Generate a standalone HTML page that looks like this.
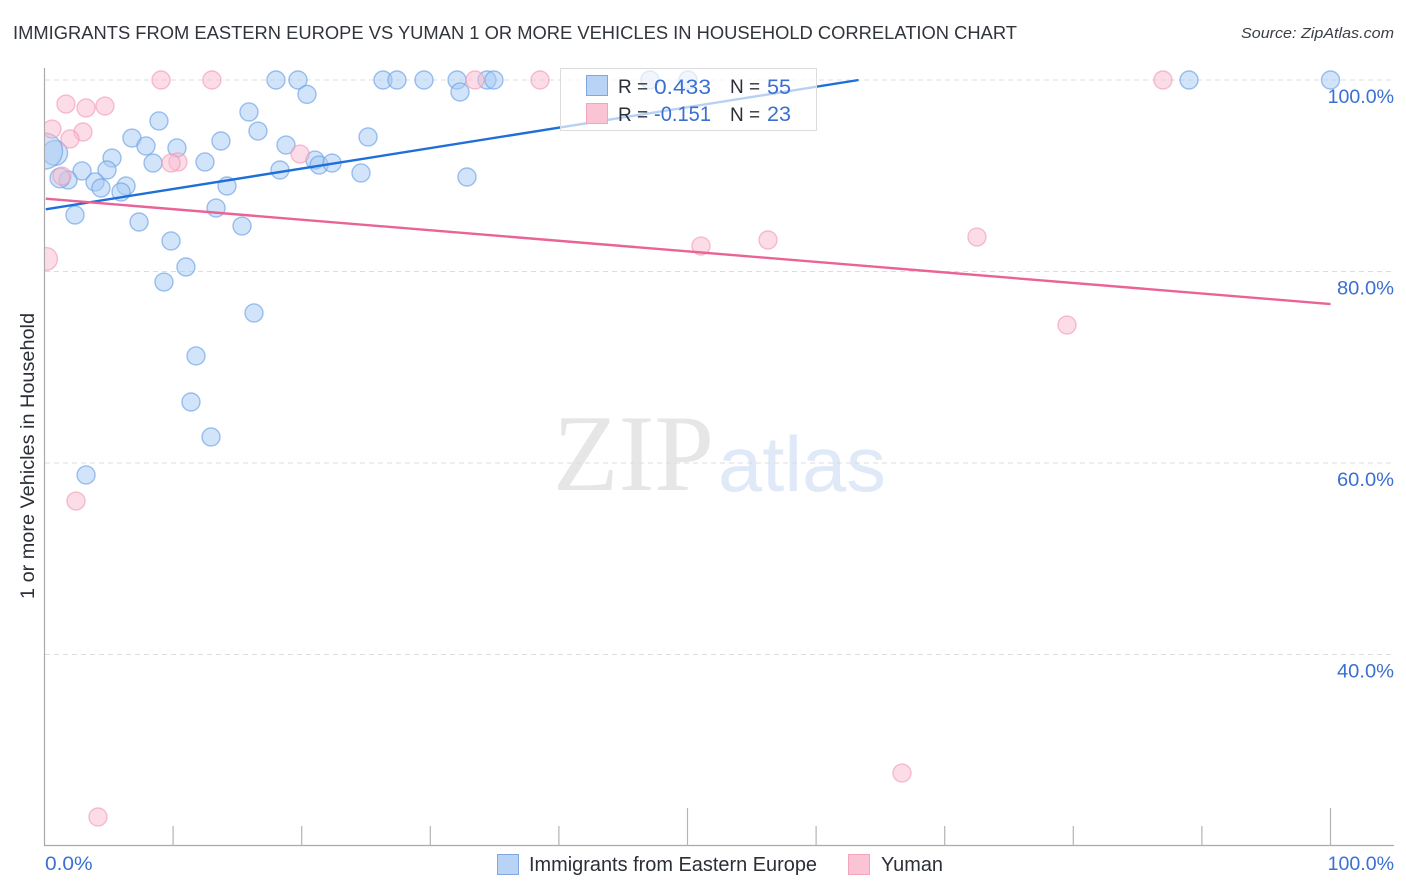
<!DOCTYPE html>
<html lang="en">
<head>
<meta charset="utf-8">
<title>Immigrants from Eastern Europe vs Yuman correlation chart</title>
<style>
html,body{margin:0;padding:0;background:#fff;}
svg{display:block;font-family:"Liberation Sans",sans-serif;}
</style>
</head>
<body>
<svg id="chart" xmlns="http://www.w3.org/2000/svg" width="1406" height="892" viewBox="0 0 1406 892">
  <defs>
    <clipPath id="plot-clip"><rect x="45" y="60" width="1349" height="785"/></clipPath>
  </defs>
  <rect width="1406" height="892" fill="#fff"/>

  <text x="13" y="39" font-size="18" fill="#30343b" textLength="1004" lengthAdjust="spacingAndGlyphs">IMMIGRANTS FROM EASTERN EUROPE VS YUMAN 1 OR MORE VEHICLES IN HOUSEHOLD CORRELATION CHART</text>
  <text x="1241" y="38" font-size="15" font-style="italic" fill="#3a3f47" textLength="153" lengthAdjust="spacingAndGlyphs">Source: ZipAtlas.com</text>

  <g>
    <text x="553" y="490" font-family="'Liberation Serif',serif" font-size="109" fill="#e6e6e6" textLength="161" lengthAdjust="spacingAndGlyphs">ZIP</text>
    <text x="718" y="491" font-size="78" fill="#dfe9f8" textLength="168" lengthAdjust="spacingAndGlyphs">atlas</text>
  </g>

  <g id="grid"></g>
  <g id="axes"></g>
  <g id="points" clip-path="url(#plot-clip)"></g>
  <g id="trends"></g>

  <text transform="translate(34,599) rotate(-90)" font-size="19" fill="#2b2f36" textLength="286" lengthAdjust="spacingAndGlyphs">1 or more Vehicles in Household</text>

  <g>
    <rect x="560.5" y="68.5" width="256" height="62" fill="#fff" fill-opacity="0.68" stroke="#dcdcdc" stroke-width="1"/>
    <rect x="586.5" y="75.5" width="21" height="20" fill="#b9d3f7" stroke="#7fa8e0"/>
    <rect x="586.5" y="103.5" width="21" height="20" fill="#fbc4d5" stroke="#f3a5bd"/>
    <text x="618" y="93" font-size="19" fill="#2b2f36">R =</text>
    <text x="654" y="94" font-size="21" fill="#3b6fd1" textLength="57" lengthAdjust="spacingAndGlyphs">0.433</text>
    <text x="730" y="93" font-size="19" fill="#2b2f36">N =</text>
    <text x="767" y="94" font-size="21" fill="#3b6fd1" textLength="24" lengthAdjust="spacingAndGlyphs">55</text>
    <text x="618" y="121" font-size="19" fill="#2b2f36">R =</text>
    <text x="654" y="121" font-size="21" fill="#3b6fd1" textLength="57" lengthAdjust="spacingAndGlyphs">-0.151</text>
    <text x="730" y="121" font-size="19" fill="#2b2f36">N =</text>
    <text x="767" y="121" font-size="21" fill="#3b6fd1" textLength="24" lengthAdjust="spacingAndGlyphs">23</text>
  </g>

  <g>
    <rect x="497.5" y="854.5" width="21" height="20" fill="#b9d3f7" stroke="#7fa8e0"/>
    <text x="529" y="871" font-size="20" fill="#2b2f36" textLength="288" lengthAdjust="spacingAndGlyphs">Immigrants from Eastern Europe</text>
    <rect x="848.5" y="854.5" width="21" height="20" fill="#fbc4d5" stroke="#f3a5bd"/>
    <text x="881" y="871" font-size="20" fill="#2b2f36" textLength="62" lengthAdjust="spacingAndGlyphs">Yuman</text>
  </g>
</svg>
<script>
// Chart data
const blueX = [18.0,19.71,20.41,26.32,27.41,29.51,32.08,32.31,34.41,34.95,47.08,50.04,89.0,100,15.9,16.6,8.9,6.8,7.89,10.3,13.72,18.78,25.16,5.25,8.44,12.48,21.03,21.35,22.36,18.31,24.61,32.85,2.92,4.86,3.93,1.83,1.2,4.39,6.34,5.95,14.19,2.37,7.35,13.34,15.36,9.84,11.0,9.29,16.29,11.78,11.39,12.95,3.23,0.82,0];
const blueY = [100,100,98.5,100,100,100,100,98.75,100,100,100,100,100,100,96.66,94.67,95.72,93.94,93.11,92.9,93.63,93.21,94.05,91.85,91.33,91.44,91.64,91.12,91.33,90.6,90.29,89.87,90.5,90.6,89.35,89.56,89.77,88.72,88.93,88.3,88.93,85.9,85.17,86.63,84.75,83.19,80.47,78.9,75.67,71.18,66.37,62.72,58.75,92.38,92.58];
const blueWeight = [1,1,1,1,1,1,1,1,1,1,1,1,1,1,1,1,1,1,1,1,1,1,1,1,1,1,1,1,1,1,1,1,1,1,1,1,1.2,1,1,1,1,1,1,1,1,1,1,1,1,1,1,1,1,1.93,4];
const pinkX = [9.06,13.02,33.48,38.53,86.97,1.67,3.23,4.7,0.58,2.99,1.98,10.38,9.84,19.87,1.36,0.12,2.45,51.05,56.26,72.51,79.51,66.68,4.16];
const pinkY = [100,100,100,100,100,97.49,97.08,97.28,94.88,94.57,93.84,91.44,91.33,92.27,89.97,81.31,56.03,82.66,83.29,83.6,74.41,27.62,23.03];
const pinkWeight = [1,1,1,1,1,1,1,1,1,1,1,1,1,1,1,1.6,1,1,1,1,1,1,1];
const blueTrendX = [0.1,63.3];
const blueTrendY = [86.5,100];
const pinkTrendX = [0.1,100];
const pinkTrendY = [87.6,76.6];
const yTicks = [100,80,60,40];
const yTickLabels = ["100.0%","80.0%","60.0%","40.0%"];
const xTicks = [10,20,30,40,50,60,70,80,90,100];
const xMajorTicks = [50,100];
const xEndLabels = ["0.0%","100.0%"];

// Axis functions
const sx = v => 44.5 + v * 12.86;
const sy = v => 80 + (100 - v) * 9.575;
const rad = w => 9 * Math.sqrt(w);
const labelWidth = s => s.length * 9.4 + 10;
const NS = "http://www.w3.org/2000/svg";
function mk(tag, parent, props) {
  const el = document.createElementNS(NS, tag);
  for (const k in props) el.setAttribute(k, props[k]);
  parent.appendChild(el);
  return el;
}
const gridG = document.getElementById("grid");
const axesG = document.getElementById("axes");
const pointsG = document.getElementById("points");
const trendsG = document.getElementById("trends");

// Gridlines and y labels
yTicks.forEach((t, i) => {
  const line = mk("line", gridG, {x1: 45, x2: 1394, y1: sy(t), y2: sy(t), stroke: "#dcdcdc", "stroke-width": 1, "stroke-dasharray": "5 4"});
  
  
  const label = mk("text", axesG, {x: 1394 - labelWidth(yTickLabels[i]), y: sy(t) + 23, "font-size": 19.5, fill: "#3b6fd1", textLength: labelWidth(yTickLabels[i]), lengthAdjust: "spacingAndGlyphs"});
  label.textContent = yTickLabels[i];
  
  
});

// Axes lines
const yAxis = mk("line", axesG, {x1: 44.5, x2: 44.5, y1: 68, y2: 845.5, stroke: "#aaaaaa", "stroke-width": 1.2});


const xAxis = mk("line", axesG, {x1: 44, x2: 1394, y1: 845.5, y2: 845.5, stroke: "#aaaaaa", "stroke-width": 1.2});


xTicks.forEach(t => {
  const top = xMajorTicks.includes(t) ? 808 : 826;
  const tick = mk("line", axesG, {x1: sx(t), x2: sx(t), y1: top, y2: 845.5, stroke: "#b4b4b4", "stroke-width": 1.2});
  
  
});
const xLabelStart = mk("text", axesG, {x: 45, y: 870, "font-size": 19.5, fill: "#3b6fd1", textLength: labelWidth(xEndLabels[0]), lengthAdjust: "spacingAndGlyphs"});
xLabelStart.textContent = xEndLabels[0];


const xLabelEnd = mk("text", axesG, {x: 1394 - labelWidth(xEndLabels[1]), y: 870, "font-size": 19.5, fill: "#3b6fd1", textLength: labelWidth(xEndLabels[1]), lengthAdjust: "spacingAndGlyphs"});
xLabelEnd.textContent = xEndLabels[1];



// Points
blueX.forEach((x, i) => {
  const c = mk("circle", pointsG, {cx: sx(x), cy: sy(blueY[i]), r: rad(blueWeight[i]), fill: "#a6c9f3", "fill-opacity": 0.5, stroke: "#6ba2e6", "stroke-opacity": 0.65, "stroke-width": 1.4});
  
  
});
pinkX.forEach((x, i) => {
  const c = mk("circle", pointsG, {cx: sx(x), cy: sy(pinkY[i]), r: rad(pinkWeight[i]), fill: "#f9bccf", "fill-opacity": 0.5, stroke: "#f296b3", "stroke-opacity": 0.6, "stroke-width": 1.4});
  
  
});

// Trend lines
const blueLine = mk("line", trendsG, {x1: sx(blueTrendX[0]), y1: sy(blueTrendY[0]), x2: sx(blueTrendX[1]), y2: sy(blueTrendY[1]), stroke: "#1f6fd8", "stroke-width": 2.4});


const pinkLine = mk("line", trendsG, {x1: sx(pinkTrendX[0]), y1: sy(pinkTrendY[0]), x2: sx(pinkTrendX[1]), y2: sy(pinkTrendY[1]), stroke: "#ea6396", "stroke-width": 2.4});


</script>
</body>
</html>
